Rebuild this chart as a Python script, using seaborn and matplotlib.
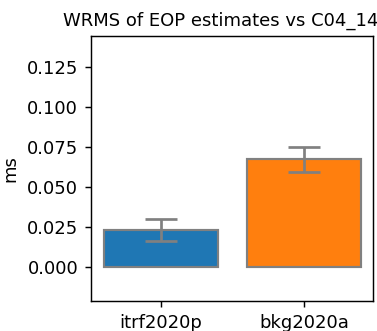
import numpy as np
import pandas as pd
import seaborn as sns
import matplotlib
matplotlib.use("Agg")
import matplotlib.pyplot as plt

# データ
solutions = ["itrf2020p", "bkg2020a"]
wrms = [0.0233, 0.0673]
err_low = [0.0165, 0.0592]
err_high = [0.0300, 0.0750]

df = pd.DataFrame({"solution": solutions, "wrms": wrms})

fig = plt.figure(figsize=(377 / 130, 331 / 130), dpi=130)
ax = fig.add_axes([0.241, 0.091, 0.748, 0.8])

sns.barplot(data=df, x="solution", y="wrms", hue="solution",
            palette=["#1f77b4", "#ff7f0e"], saturation=1, edgecolor="gray",
            linewidth=1.2, errorbar=None, legend=False, ax=ax)

# エラーバー
lo = np.array(wrms) - np.array(err_low)
hi = np.array(err_high) - np.array(wrms)
ax.errorbar(range(len(solutions)), wrms, yerr=[lo, hi], fmt="none",
            ecolor="gray", elinewidth=1.5, capsize=9, capthick=1.5)

ax.set_ylim(-0.021, 0.144)
ax.set_xlim(-0.49, 1.48)
ax.set_yticks([0.0, 0.025, 0.05, 0.075, 0.1, 0.125])
ax.set_xlabel("")
ax.set_ylabel("ms")
ax.set_title("WRMS of EOP estimates vs C04_14", fontsize=10, x=0.461)

fig.savefig("out.png", dpi=130)
